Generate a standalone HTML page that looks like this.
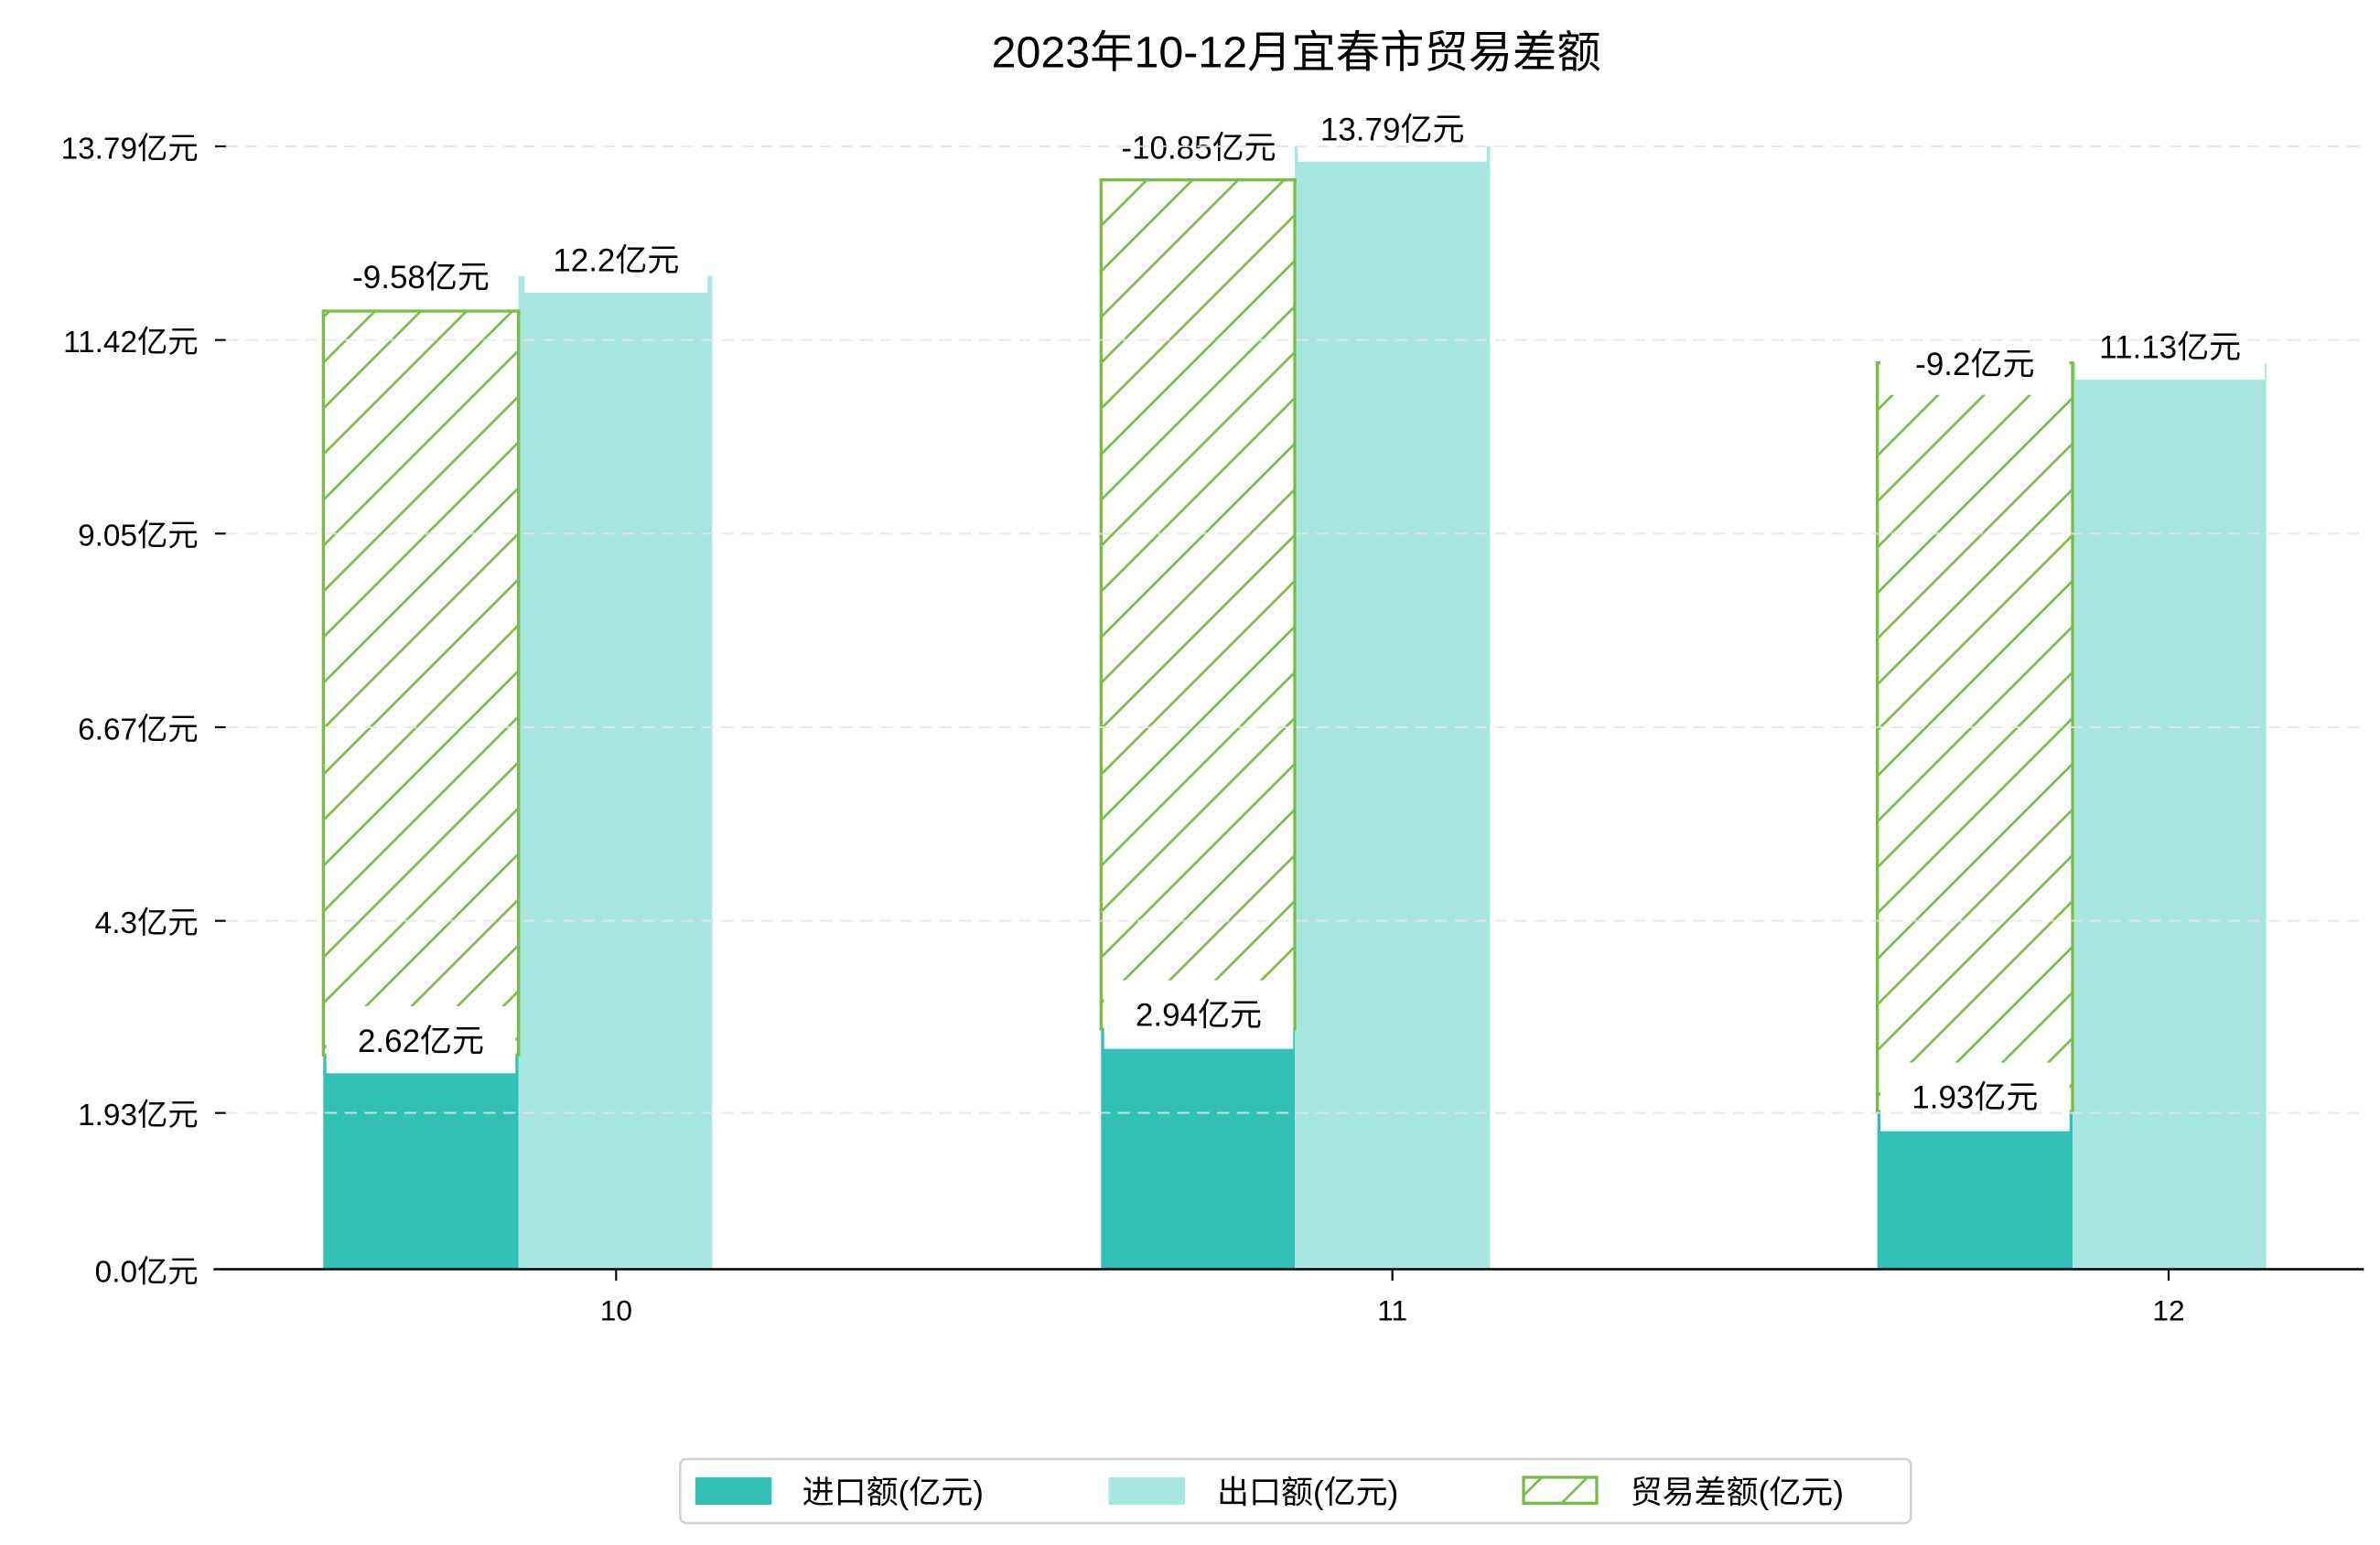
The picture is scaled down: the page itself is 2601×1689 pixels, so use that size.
<!DOCTYPE html>
<html><head><meta charset="utf-8"><style>
html,body{margin:0;padding:0;background:#fff;}
svg{display:block;}
text{font-family:"Liberation Sans","Noto Sans CJK SC",sans-serif;fill:#000;}
</style></head><body>
<svg width="2601" height="1689" viewBox="0 0 1560.6 1013.4" xmlns="http://www.w3.org/2000/svg">
<defs>
<pattern id="h" patternUnits="userSpaceOnUse" width="30" height="30">
<path d="M-2,32 L32,-2 M-8,8 L8,-8 M22,38 L38,22" stroke="#77bf44" stroke-width="1.6"/>
</pattern>
</defs>
<text x="850" y="44" font-size="29" text-anchor="middle">2023年10-12月宜春市贸易差额</text>
<!-- bars -->
<g>
<rect x="212" y="692" width="128" height="140" fill="#30c0b4"/>
<rect x="340" y="181" width="127" height="651" fill="#a8e6e0"/>
<rect x="212" y="204" width="128" height="488" fill="url(#h)" stroke="#77bf44" stroke-width="2"/>
<rect x="722" y="675" width="127" height="157" fill="#30c0b4"/>
<rect x="849" y="96" width="128" height="736" fill="#a8e6e0"/>
<rect x="722" y="118" width="127" height="557" fill="url(#h)" stroke="#77bf44" stroke-width="2"/>
<rect x="1231" y="729" width="128" height="103" fill="#30c0b4"/>
<rect x="1359" y="238" width="127" height="594" fill="#a8e6e0"/>
<rect x="1231" y="238" width="128" height="491" fill="url(#h)" stroke="#77bf44" stroke-width="2"/>
</g>
<!-- label boxes -->
<g fill="#fff">
<rect x="214" y="166" width="124" height="37"/>
<rect x="344" y="155" width="120" height="37"/>
<rect x="214" y="660" width="124" height="44"/>
<rect x="724" y="82" width="124" height="35"/>
<rect x="851" y="70" width="124" height="36"/>
<rect x="724" y="643" width="124" height="45"/>
<rect x="1233" y="222" width="124" height="37"/>
<rect x="1361" y="212" width="124" height="37"/>
<rect x="1233" y="697" width="124" height="45"/>
</g>
<g font-size="21" text-anchor="middle">
<text x="276" y="189">-9.58亿元</text>
<text x="404" y="178">12.2亿元</text>
<text x="276" y="690">2.62亿元</text>
<text x="786" y="104">-10.85亿元</text>
<text x="913" y="92">13.79亿元</text>
<text x="786" y="673">2.94亿元</text>
<text x="1295" y="246">-9.2亿元</text>
<text x="1423" y="235">11.13亿元</text>
<text x="1295" y="727">1.93亿元</text>
</g>
<!-- grid -->
<g stroke="#e6e6e6" stroke-width="1.2" stroke-dasharray="8,5" opacity="0.8">
<line x1="148" y1="96" x2="1550" y2="96"/>
<line x1="148" y1="223" x2="1550" y2="223"/>
<line x1="148" y1="350" x2="1550" y2="350"/>
<line x1="148" y1="477" x2="1550" y2="477"/>
<line x1="148" y1="604" x2="1550" y2="604"/>
<line x1="148" y1="730" x2="1550" y2="730"/>
</g>
<line x1="140" y1="832.5" x2="1550" y2="832.5" stroke="#000" stroke-width="1.5"/>
<g stroke="#000" stroke-width="1.3">
<line x1="141" y1="96" x2="148" y2="96"/><line x1="141" y1="223" x2="148" y2="223"/>
<line x1="141" y1="350" x2="148" y2="350"/><line x1="141" y1="477" x2="148" y2="477"/>
<line x1="141" y1="604" x2="148" y2="604"/><line x1="141" y1="730" x2="148" y2="730"/>
<line x1="404" y1="833" x2="404" y2="840"/><line x1="913" y1="833" x2="913" y2="840"/><line x1="1422" y1="833" x2="1422" y2="840"/>
</g>
<g font-size="20" text-anchor="end">
<text x="130" y="104">13.79亿元</text>
<text x="130" y="231">11.42亿元</text>
<text x="130" y="358">9.05亿元</text>
<text x="130" y="485">6.67亿元</text>
<text x="130" y="612">4.3亿元</text>
<text x="130" y="738">1.93亿元</text>
<text x="130" y="841">0.0亿元</text>
</g>
<g font-size="19" text-anchor="middle">
<text x="404" y="866">10</text><text x="913" y="866">11</text><text x="1422" y="866">12</text>
</g>
<!-- legend -->
<rect x="446" y="957" width="807" height="42" rx="4" fill="#fff" stroke="#d0d0d0" stroke-width="1.5"/>
<rect x="456" y="969" width="50" height="18" fill="#30c0b4"/>
<text x="526" y="986" font-size="21">进口额(亿元)</text>
<rect x="727" y="969" width="50" height="18" fill="#a8e6e0"/>
<text x="798" y="986" font-size="21">出口额(亿元)</text>
<rect x="999" y="969" width="48" height="17" fill="url(#h)" stroke="#77bf44" stroke-width="2"/>
<text x="1069" y="986" font-size="21">贸易差额(亿元)</text>
</svg>
</body></html>
